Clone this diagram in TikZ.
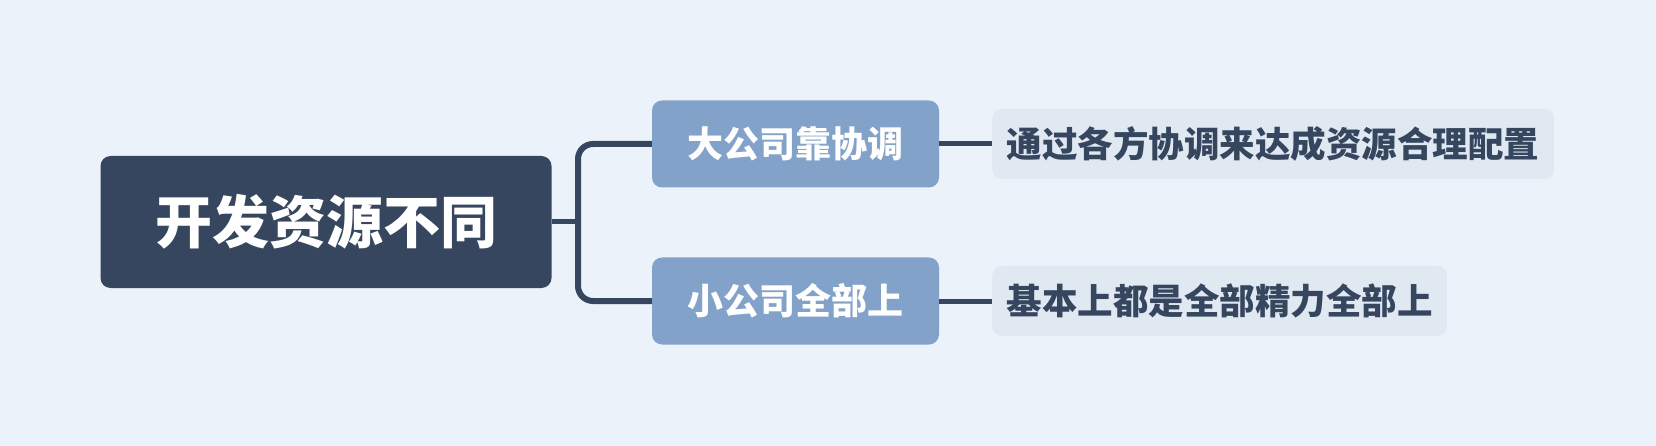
\documentclass[tikz,border=0pt]{standalone}
\usepackage{fontspec}
\usepackage{xcolor}
\usepackage{tikz}
\usetikzlibrary{positioning}
\newfontfamily\cjk{Noto Sans CJK SC}
\definecolor{pagebg}{HTML}{EBF2FA}
\definecolor{rootfill}{HTML}{35465E}
\definecolor{branchfill}{HTML}{83A2C9}
\definecolor{leaffill}{HTML}{E0E8F2}

\begin{document}
\begin{tikzpicture}[
  x=1pt, y=-1pt,
  rootbox/.style={fill=rootfill, rounded corners=10pt, text=white, inner sep=0pt, minimum width=451pt, minimum height=132pt, font=\cjk\bfseries\fontsize{57}{66}\selectfont},
  branchbox/.style={fill=branchfill, rounded corners=10pt, text=white, inner sep=0pt, minimum width=287pt, minimum height=87pt, font=\cjk\bfseries\fontsize{36}{42}\selectfont},
  leafbox/.style={fill=leaffill, rounded corners=10pt, text=rootfill, anchor=west, inner sep=0pt, minimum height=70pt, font=\cjk\bfseries\fontsize{35.5}{42}\selectfont},
  link/.style={draw=rootfill, line width=5pt}
]
\fill[pagebg] (0,0) rectangle (1656,446);
\useasboundingbox (0,0) rectangle (1656,446);
\node[rootbox] (root) at (326,222) {开发资源不同};
\node[branchbox] (big) at (795.5,144) {大公司靠协调};
\node[branchbox] (small) at (795.5,301) {小公司全部上};
\node[leafbox, minimum width=562pt] (bigleaf) at (992,144) {通过各方协调来达成资源合理配置};
\node[leafbox, minimum width=455pt] (smallleaf) at (992,301) {基本上都是全部精力全部上};
\coordinate (fork) at (578,222);
\draw[link, line width=6pt, rounded corners=15pt] (big.west) -| (fork) |- (small.west);
\draw[link] (root.east) -- (fork);
\foreach \a/\b in {big/bigleaf,small/smallleaf} \draw[link] (\a.east) -- (\b.west);
\end{tikzpicture}
\end{document}
